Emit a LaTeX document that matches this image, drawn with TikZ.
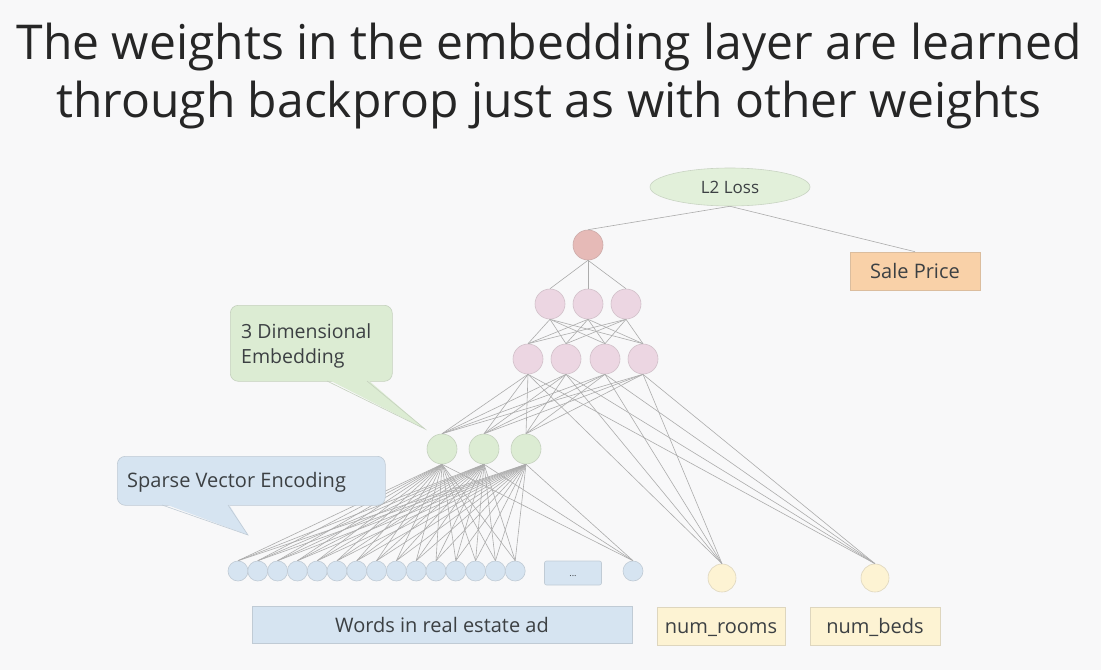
\documentclass[tikz,border=0pt]{standalone}
\usepackage{fontspec}
\setmainfont{Open Sans}
\usetikzlibrary{positioning,shapes.geometric}
\definecolor{pagebg}{RGB}{248,248,249}
\definecolor{wiregray}{RGB}{172,172,172}
\definecolor{inkgray}{RGB}{60,64,67}
\definecolor{lossgreen}{RGB}{226,240,218}
\definecolor{outred}{RGB}{230,186,183}
\definecolor{hidpink}{RGB}{236,214,226}
\definecolor{embgreen}{RGB}{220,236,211}
\definecolor{wordblue}{RGB}{214,228,241}
\definecolor{numyellow}{RGB}{253,243,211}
\definecolor{saleorange}{RGB}{249,209,168}

\begin{document}
\begin{tikzpicture}[x=1pt, y=-1pt,
  neuron/.style={circle, draw=#1!75!gray, fill=#1, line width=0.6pt, minimum size=30pt, inner sep=0pt},
  smallneuron/.style={neuron=#1, minimum size=20pt},
  tag/.style={draw=#1!75!gray, fill=#1, line width=0.6pt, text=inkgray, text height=15pt, text depth=0pt, font=\fontsize{20}{24}\selectfont},
  wire/.style={draw=wiregray, line width=0.6pt}
]
\useasboundingbox[fill=pagebg] (0,0) rectangle (1101,670);

% title
\node[text=black!85, align=center, font=\fontsize{48}{58}\selectfont] (title) at (549,76)
  {The weights in the embedding layer are learned\\through backprop just as with other weights};

% loss and target
\node[ellipse, tag=lossgreen, minimum width=160pt, minimum height=38pt, inner sep=0pt, text height=13pt, font=\fontsize{17}{20}\selectfont] (loss) at (730,187) {L2 Loss};
\node[tag=saleorange, minimum width=130pt, minimum height=38pt] (sale) at (915,271) {Sale Price};

% network
\node[neuron=outred] (out) at (588,245) {};
\foreach \i/\x in {1/550,2/588,3/626}
  \node[neuron=hidpink] (hb-\i) at (\x,304) {};
\foreach \i/\x in {1/528,2/566,3/605,4/643}
  \node[neuron=hidpink] (ha-\i) at (\x,359) {};
\foreach \i/\x in {1/442,2/484,3/526}
  \node[neuron=embgreen] (emb-\i) at (\x,449) {};

% inputs
\foreach \k in {1,...,15}
  \node[smallneuron=wordblue] (in-\k) at ({238+(\k-1)*19.8},571) {};
\node[tag=wordblue, rounded corners=2pt, minimum width=57pt, minimum height=24pt, inner sep=0pt, text height=6pt, font=\fontsize{9}{10}\selectfont] (dots) at (573,573) {...};
\node[smallneuron=wordblue] (in-16) at (633,571) {};
\node[neuron=numyellow, minimum size=28pt] (rooms) at (722,578) {};
\node[neuron=numyellow, minimum size=28pt] (beds) at (875,578) {};

\node[tag=wordblue, minimum width=380pt, minimum height=37pt] (words) at (442,625) {Words in real estate ad};
\node[tag=numyellow, minimum width=128pt, minimum height=38pt] (roomlbl) at (721,626) {num\_rooms};
\node[tag=numyellow, minimum width=130pt, minimum height=38pt] (bedlbl) at (875,626) {num\_beds};

% wires
\draw[wire] (loss.south) -- (out.north);
\draw[wire] (loss.south) -- (sale.north);
\foreach \i in {1,2,3}
  \draw[wire] (out.south) -- (hb-\i.north);
\foreach \i in {1,2,3}
  \foreach \j in {1,...,4}
    \draw[wire] (hb-\i.south) -- (ha-\j.north);
\foreach \i in {1,...,4} {
  \foreach \j in {1,2,3}
    \draw[wire] (ha-\i.south) -- (emb-\j.north);
  \draw[wire] (ha-\i.south) -- (rooms.north);
  \draw[wire] (ha-\i.south) -- (beds.north);
}
\foreach \j in {1,2,3}
  \foreach \k in {1,...,16}
    \draw[wire] (emb-\j.south) -- (in-\k.north);

% callouts
\node[tag=embgreen, rounded corners=8pt, minimum width=162pt, minimum height=76pt, anchor=north west] (embnote) at (230,305) {};
\node[anchor=north west, text=inkgray, align=left, font=\fontsize{19.5}{25}\selectfont, inner sep=0pt] (embtext) at (241,323) {3 Dimensional\\Embedding};
\fill[embgreen] (327,379) -- (425,429) -- (367,379) -- cycle;
\draw[draw=embgreen!75!gray, line width=0.6pt] (327,381) -- (425,429) -- (367,381);

\node[tag=wordblue, rounded corners=8pt, minimum width=268pt, minimum height=49pt, anchor=north west] (sparsenote) at (117,456) {};
\node[anchor=west, text=inkgray, font=\fontsize{20}{24}\selectfont, inner sep=0pt] (sparsetext) at (127,482) {Sparse Vector Encoding};
\fill[wordblue] (162,503) -- (248,535) -- (228,503) -- cycle;
\draw[draw=wordblue!75!gray, line width=0.6pt] (162,505) -- (248,535) -- (228,505);
\end{tikzpicture}
\end{document}
